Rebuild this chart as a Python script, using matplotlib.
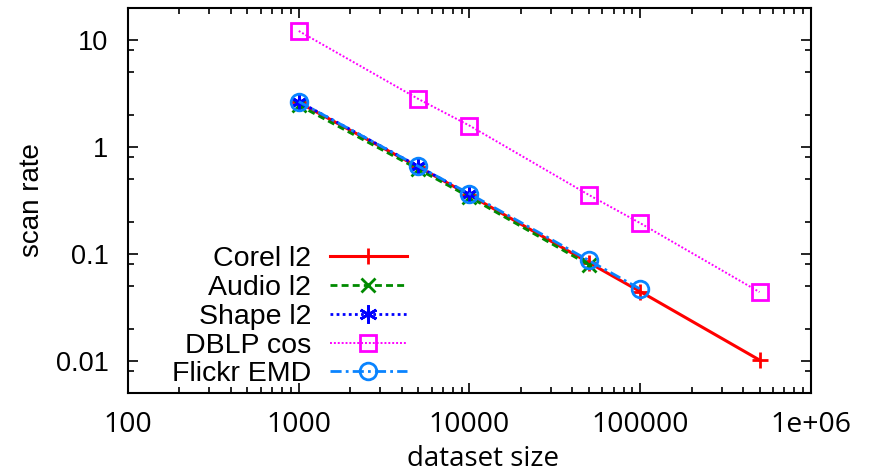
import matplotlib
matplotlib.use("Agg")
import matplotlib.pyplot as plt
from matplotlib.ticker import LogLocator, NullFormatter

# data (log-log)
corel_x = [1000, 5000, 10000, 50000, 100000, 500000]
corel_y = [2.6, 0.65, 0.355, 0.083, 0.0445, 0.0102]

audio_x = [1000, 5000, 10000, 50000]
audio_y = [2.45, 0.62, 0.34, 0.079]

shape_x = [1000, 5000, 10000]
shape_y = [2.65, 0.66, 0.36]

dblp_x = [1000, 5000, 10000, 50000, 100000, 500000]
dblp_y = [12.1, 2.81, 1.58, 0.356, 0.194, 0.044]

flickr_x = [1000, 5000, 10000, 50000, 100000]
flickr_y = [2.65, 0.66, 0.365, 0.087, 0.047]

xticks = [100, 1000, 10000, 100000, 1000000]
xtick_labels = ["100", "1000", "10000", "100000", "1e+06"]
yticks = [0.01, 0.1, 1, 10]
ytick_labels = ["0.01", "0.1", "1", "10"]

plt.rcParams['font.family'] = ['Liberation Sans', 'DejaVu Sans']

fig = plt.figure(figsize=(8.71, 4.76), dpi=100)
ax = fig.add_axes([0.147, 0.174, 0.784, 0.810])

ax.plot(corel_x, corel_y, color='#ff0000', lw=2.2, ls='-',
        marker='+', ms=12, mew=2, label='Corel l2')
ax.plot(audio_x, audio_y, color='#008a00', lw=2.0, ls=(0, (2.5, 1.5)),
        marker='x', ms=10, mew=2, label='Audio l2')
ax.plot(shape_x, shape_y, color='#0000ff', lw=2.0, ls=(0, (1, 1.2)),
        marker=(6, 2, 0), ms=13, mew=2, label='Shape l2')
ax.plot(dblp_x, dblp_y, color='#ff00ff', lw=1.4, ls=(0, (1, 1)),
        marker='s', ms=12, mew=2, mfc='none', label='DBLP cos')
ax.plot(flickr_x, flickr_y, color='#0a84ff', lw=2.0, ls=(0, (4, 1.5, 1, 1.5)),
        marker='o', ms=12, mew=2, mfc='none', label='Flickr EMD')

ax.set_xscale('log')
ax.set_yscale('log')
ax.set_xlim(100, 1e6)
ax.set_ylim(0.005, 20)

ax.set_xticks(xticks)
ax.set_xticklabels(xtick_labels, family='Open Sans', fontsize=20.5)
ax.set_yticks(yticks)
ax.set_yticklabels(ytick_labels, fontsize=19.5)
ax.xaxis.set_minor_locator(LogLocator(base=10, subs=range(2, 10)))
ax.yaxis.set_minor_locator(LogLocator(base=10, subs=(2, 5, 8)))
ax.xaxis.set_minor_formatter(NullFormatter())
ax.yaxis.set_minor_formatter(NullFormatter())

ax.tick_params(which='both', direction='in', top=True, right=True, width=1.2)
ax.tick_params(which='major', length=7)
ax.tick_params(which='minor', length=4)
ax.tick_params(axis='x', which='major', pad=13)
ax.tick_params(axis='y', which='major', pad=14)
for s in ax.spines.values():
    s.set_linewidth(1.5)

ax.set_xlabel('dataset size', family='Open Sans', fontsize=20, labelpad=4)
ax.set_ylabel('scan rate', fontsize=20, labelpad=8)
ax.xaxis.label.set_x(0.52)

ax.legend(loc='lower right', bbox_to_anchor=(0.408, 0.015), frameon=False,
          markerfirst=False, fontsize=20.5, handlelength=2.7,
          handletextpad=0.65, labelspacing=0.1, borderpad=0, borderaxespad=0)

fig.savefig('out.png', dpi=100)
